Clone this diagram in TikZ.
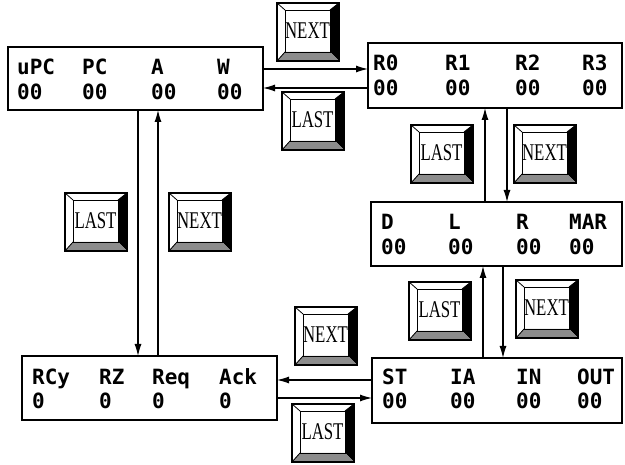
\documentclass[tikz,border=0pt]{standalone}
\usepackage{fontspec}
\usetikzlibrary{arrows.meta,calc}
\newfontfamily\regfont{DejaVu Sans Mono}
\newfontfamily\btnfont{Liberation Serif}[FakeStretch=0.7]
\tikzset{
 regbox/.style={draw, line width=1.3pt, anchor=north west, inner sep=0pt, outer sep=0pt},
 lbl/.style={anchor=base west, inner sep=0pt, font=\regfont\bfseries\fontsize{21}{21}\selectfont},
 btn/.style={draw, line width=1.2pt, minimum width=62pt, minimum height=58pt, inner sep=0pt, outer sep=0pt},
 btntext/.style={inner sep=0pt, font=\btnfont\fontsize{24}{24}\selectfont},
 conn/.style={line width=1.1pt, -{Latex[length=12pt,width=7pt]}},
 bevel/.style={line width=0.8pt},
}
\newcommand\mkbutton[4]{%
 \node[btn] (#1) at (#2,#3) {};
 \coordinate (#1-a) at ([xshift=8pt,yshift=-7pt]#1.north west);
 \coordinate (#1-b) at ([xshift=-9pt,yshift=-7pt]#1.north east);
 \coordinate (#1-c) at ([xshift=-9pt,yshift=9pt]#1.south east);
 \coordinate (#1-d) at ([xshift=8pt,yshift=9pt]#1.south west);
 \fill[black] (#1.north east) -- (#1.south east) -- (#1-c) -- (#1-b) -- cycle;
 \fill[black!45] (#1.south west) -- (#1.south east) -- (#1-c) -- (#1-d) -- cycle;
 \draw[bevel] (#1-a) rectangle (#1-c);
 \draw[bevel] (#1.north west) -- (#1-a) (#1.south west) -- (#1-d) (#1.north east) -- (#1-b);
 \draw[line width=1.2pt] (#1.north west) rectangle (#1.south east);
 \node[btntext] (#1-t) at ($(#1-a)!0.5!(#1-c)$) {#4};
}
\begin{document}
\begin{tikzpicture}[x=1pt,y=-1pt]
\useasboundingbox (0,0) rectangle (625,465);
\fill[white] (0,0) rectangle (625,465);

% register boxes
\node[regbox, minimum width=255pt, minimum height=63pt] (r1) at (8,47) {};
\node[regbox, minimum width=254pt, minimum height=65pt] (r2) at (368,43) {};
\node[regbox, minimum width=251pt, minimum height=64pt] (r3) at (371,202) {};
\node[regbox, minimum width=255pt, minimum height=64pt] (r4) at (22,356) {};
\node[regbox, minimum width=250pt, minimum height=65pt] (r5) at (372,358) {};

\foreach \t/\x [count=\i] in {uPC/17,PC/82,A/151,W/217}{
 \node[lbl] (r1n\i) at (\x,75) {\t};
 \node[lbl] (r1v\i) at (\x,100) {00};}
\foreach \t/\x [count=\i] in {R0/373,R1/445,R2/515,R3/582}{
 \node[lbl] (r2n\i) at (\x,71) {\t};
 \node[lbl] (r2v\i) at (\x,96) {00};}
\foreach \t/\x [count=\i] in {D/381,L/448,R/516,MAR/569}{
 \node[lbl] (r3n\i) at (\x,230) {\t};
 \node[lbl] (r3v\i) at (\x,255) {00};}
\foreach \t/\x [count=\i] in {RCy/32,RZ/99,Req/152,Ack/219}{
 \node[lbl] (r4n\i) at (\x,385) {\t};
 \node[lbl] (r4v\i) at (\x,409) {0};}
\foreach \t/\x [count=\i] in {ST/382,IA/450,IN/516,OUT/577}{
 \node[lbl] (r5n\i) at (\x,385) {\t};
 \node[lbl] (r5v\i) at (\x,409) {00};}

% connectors
\draw[conn] (r1.east |- 0,69) -- (r2.west |- 0,69);
\draw[conn] (r2.west |- 0,88) -- (r1.east |- 0,88);
\draw[conn] (r1.south -| 138,0) -- (r4.north -| 138,0);
\draw[conn] (r4.north -| 158,0) -- (r1.south -| 158,0);
\draw[conn] (r3.north -| 485,0) -- (r2.south -| 485,0);
\draw[conn] (r2.south -| 507,0) -- (r3.north -| 507,0);
\draw[conn] (r5.north -| 483,0) -- (r3.south -| 483,0);
\draw[conn] (r3.south -| 503,0) -- (r5.north -| 503,0);
\draw[conn] (r5.west |- 0,380) -- (r4.east |- 0,380);
\draw[conn] (r4.east |- 0,398) -- (r5.west |- 0,398);

% buttons
\mkbutton{n1}{308}{32}{NEXT}
\mkbutton{l1}{313}{121}{LAST}
\mkbutton{l2}{442}{154}{LAST}
\mkbutton{n2}{545}{154}{NEXT}
\mkbutton{l3}{440}{311}{LAST}
\mkbutton{n3}{547}{309}{NEXT}
\mkbutton{l4}{96}{222}{LAST}
\mkbutton{n4}{200}{222}{NEXT}
\mkbutton{n5}{326}{336}{NEXT}
\mkbutton{l5}{323}{433}{LAST}
\end{tikzpicture}
\end{document}
